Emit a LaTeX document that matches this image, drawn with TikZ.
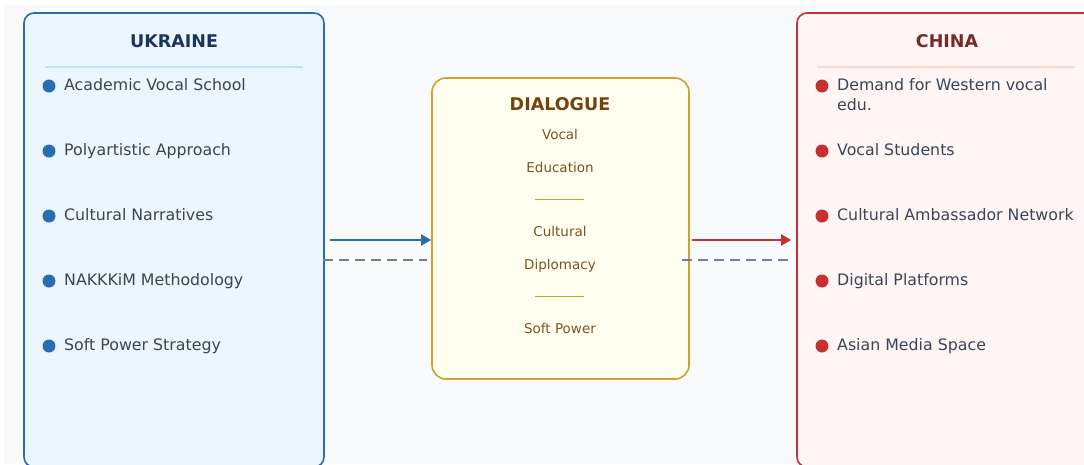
\documentclass[tikz,border=0pt]{standalone}
\usepackage{fontspec}
\setmainfont{DejaVu Sans}
\usetikzlibrary{arrows.meta,positioning}

\definecolor{pagebg}{HTML}{F8FAFC}
\definecolor{ukline}{HTML}{2B6CB0}
\definecolor{ukfill}{HTML}{EBF6FE}
\definecolor{uktitle}{HTML}{1A365D}
\definecolor{uksep}{HTML}{BEE3F8}
\definecolor{cnline}{HTML}{C53030}
\definecolor{cnfill}{HTML}{FFF5F5}
\definecolor{cntitle}{HTML}{742A2A}
\definecolor{cnsep}{HTML}{FED7D7}
\definecolor{dlline}{HTML}{D69E2E}
\definecolor{dlfill}{HTML}{FFFFF0}
\definecolor{dltitle}{HTML}{744210}
\definecolor{dltext}{HTML}{7C5322}
\definecolor{itemtext}{HTML}{3A4556}
\definecolor{linkgray}{HTML}{718096}

\tikzset{>={Triangle[length=10pt,width=11pt]}}
\tikzset{
  sidebox/.style={draw, line width=1.6pt, rounded corners=10pt,
    minimum width=300pt, minimum height=454pt, inner sep=0pt},
  title/.style={font=\fontsize{17.5}{20}\selectfont\bfseries, anchor=base, inner sep=0pt},
  item/.style={font=\fontsize{15.8}{20}\selectfont, text=itemtext, anchor=base west, inner sep=0pt},
  dltxt/.style={font=\fontsize{13.5}{16}\selectfont, text=dltext, anchor=base, inner sep=0pt},
  link/.style={draw=linkgray, line width=1.8pt, dash pattern=on 10pt off 6pt},
}

\begin{document}
\begin{tikzpicture}[x=1pt, y=-1pt]
  \useasboundingbox (0,0) rectangle (1084,464);
  \clip (0,0) rectangle (1084,464);
  \fill[pagebg] (4,5) rectangle (1084,464);

  % the three boxes
  \node[sidebox, fill=ukfill, draw=ukline] (ukraine) at (174,240) {};
  \node[sidebox, fill=cnfill, draw=cnline] (china) at (947,240) {};
  \node[draw=dlline, fill=dlfill, line width=1.6pt, rounded corners=14pt,
    minimum width=257pt, minimum height=301pt, inner sep=0pt] (dialogue) at (560.5,228.5) {};

  % Ukraine side
  \node[title, text=uktitle] (ukr-title) at (174,47) {UKRAINE};
  \draw[uksep, line width=1.2pt] (45,67) -- (303,67);
  \foreach \txt [count=\i] in {Academic Vocal School, Polyartistic Approach,
      Cultural Narratives, NAKKKiM Methodology, Soft Power Strategy} {
    \fill[ukline] (49,{86+65*(\i-1)}) circle (6.5);
    \node[item] (ukr-\i) at (64,{90+65*(\i-1)}) {\txt};
  }

  % China side
  \node[title, text=cntitle] (cn-title) at (947,47) {CHINA};
  \draw[cnsep, line width=1.2pt] (817,67) -- (1075,67);
  \foreach \txt [count=\i] in {{\begin{tabular}[t]{@{}l@{}}Demand for Western vocal\\edu.\end{tabular}},
      Vocal Students, Cultural Ambassador Network, Digital Platforms, Asian Media Space} {
    \fill[cnline] (822,{86+65*(\i-1)}) circle (6.5);
    \node[item] (cn-\i) at (837,{90+65*(\i-1)}) {\txt};
  }

  % dialogue column
  \node[title, text=dltitle] (dl-title) at (560,110) {DIALOGUE};
  \node[dltxt] (dl-1) at (560,139) {Vocal};
  \node[dltxt] (dl-2) at (560,172) {Education};
  \draw[dlline, line width=1pt] (535,199) -- (584,199);
  \node[dltxt] (dl-3) at (560,236) {Cultural};
  \node[dltxt] (dl-4) at (560,269) {Diplomacy};
  \draw[dlline, line width=1pt] (535,296) -- (584,296);
  \node[dltxt] (dl-5) at (560,333) {Soft Power};

  % connectors
  \coordinate (ud) at ([yshift=-20pt]ukraine.east);
  \coordinate (cd) at ([yshift=-20pt]china.west);
  \draw[->, ukline, line width=1.8pt, shorten <=5pt] (ukraine.east) -- (dialogue.west |- ukraine.east);
  \draw[->, cnline, line width=1.8pt, shorten <=2pt, shorten >=5pt] (dialogue.east |- china.west) -- (china.west);
  \draw[link, shorten <=-2pt, shorten >=4pt] (ud) -- (ud -| dialogue.west);
  \draw[link, shorten <=-8pt, shorten >=5pt] (cd -| dialogue.east) -- (cd);
\end{tikzpicture}
\end{document}
